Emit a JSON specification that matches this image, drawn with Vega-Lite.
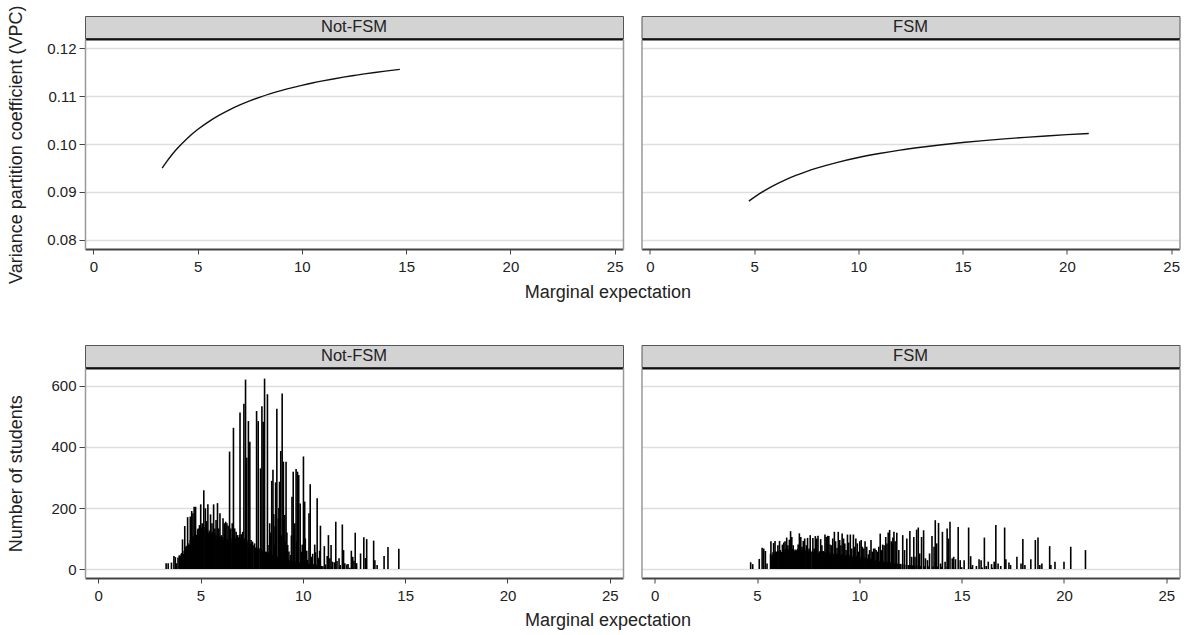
{
  "$schema": "https://vega.github.io/schema/vega-lite/v6.json",
  "background": "white",
  "padding": {"left": 7, "top": 5, "right": 6, "bottom": 1},
  "spacing": 42,
  "datasets": {
    "vpcN": [
      {"x": 3.3, "vpc": 0.09496}, {"x": 3.5, "vpc": 0.09622}, {"x": 3.75, "vpc": 0.09765}, {"x": 4.0, "vpc": 0.09894},
      {"x": 4.5, "vpc": 0.10116}, {"x": 5.0, "vpc": 0.10301}, {"x": 5.5, "vpc": 0.10457}, {"x": 6.0, "vpc": 0.10591},
      {"x": 6.5, "vpc": 0.10707}, {"x": 7.0, "vpc": 0.10809}, {"x": 7.5, "vpc": 0.10899}, {"x": 8.0, "vpc": 0.10978},
      {"x": 8.5, "vpc": 0.1105}, {"x": 9.0, "vpc": 0.11114}, {"x": 9.5, "vpc": 0.11172}, {"x": 10.0, "vpc": 0.11224},
      {"x": 10.5, "vpc": 0.11273}, {"x": 11.0, "vpc": 0.11317}, {"x": 11.5, "vpc": 0.11357}, {"x": 12.0, "vpc": 0.11395},
      {"x": 12.5, "vpc": 0.11429}, {"x": 13.0, "vpc": 0.11462}, {"x": 13.5, "vpc": 0.11492}, {"x": 14.0, "vpc": 0.1152},
      {"x": 14.7, "vpc": 0.11556}
    ],
    "vpcF": [
      {"x": 4.75, "vpc": 0.08808}, {"x": 5.0, "vpc": 0.08887}, {"x": 5.5, "vpc": 0.09028}, {"x": 6.0, "vpc": 0.09148},
      {"x": 6.5, "vpc": 0.09252}, {"x": 7.0, "vpc": 0.09344}, {"x": 7.5, "vpc": 0.09425}, {"x": 8.0, "vpc": 0.09496},
      {"x": 9.0, "vpc": 0.09618}, {"x": 10.0, "vpc": 0.09718}, {"x": 11.0, "vpc": 0.09801}, {"x": 12.0, "vpc": 0.09872},
      {"x": 13.0, "vpc": 0.09932}, {"x": 14.0, "vpc": 0.09985}, {"x": 15.0, "vpc": 0.10031}, {"x": 16.0, "vpc": 0.10071},
      {"x": 17.0, "vpc": 0.10107}, {"x": 18.0, "vpc": 0.10139}, {"x": 19.0, "vpc": 0.10168}, {"x": 20.0, "vpc": 0.10195},
      {"x": 21.05, "vpc": 0.10219}
    ],
    "histN": [
      {"x":3.32,"n":19},{"x":3.42,"n":19},{"x":3.58,"n":21},{"x":3.70,"n":43},{"x":3.77,"n":39},{"x":3.83,"n":19},{"x":3.99,"n":35},{"x":4.05,"n":48},{"x":4.12,"n":97},{"x":4.18,"n":48},
      {"x":4.23,"n":141},{"x":4.31,"n":76},{"x":4.37,"n":170},{"x":4.44,"n":79},{"x":4.50,"n":172},{"x":4.57,"n":190},{"x":4.63,"n":183},{"x":4.69,"n":204},{"x":4.76,"n":204},{"x":4.82,"n":100},
      {"x":4.89,"n":133},{"x":4.95,"n":144},{"x":5.01,"n":212},{"x":5.08,"n":150},{"x":5.16,"n":258},{"x":5.24,"n":199},{"x":5.30,"n":157},{"x":5.36,"n":212},{"x":5.43,"n":122},{"x":5.49,"n":179},
      {"x":5.56,"n":150},{"x":5.64,"n":212},{"x":5.70,"n":133},{"x":5.76,"n":161},{"x":5.83,"n":216},{"x":5.89,"n":133},{"x":5.95,"n":183},{"x":6.02,"n":111},{"x":6.10,"n":166},{"x":6.16,"n":150},
      {"x":6.23,"n":155},{"x":6.29,"n":150},{"x":6.35,"n":142},{"x":6.42,"n":385},{"x":6.48,"n":133},{"x":6.55,"n":150},{"x":6.61,"n":463},{"x":6.67,"n":133},{"x":6.74,"n":122},{"x":6.80,"n":111},
      {"x":6.86,"n":100},{"x":6.93,"n":513},{"x":6.99,"n":114},{"x":7.06,"n":122},{"x":7.12,"n":542},{"x":7.20,"n":621},{"x":7.23,"n":360},{"x":7.26,"n":365},{"x":7.34,"n":485},{"x":7.41,"n":417},
      {"x":7.47,"n":95},{"x":7.54,"n":90},{"x":7.64,"n":84},{"x":7.74,"n":518},{"x":7.82,"n":485},{"x":7.93,"n":330},{"x":8.00,"n":534},{"x":8.06,"n":483},{"x":8.10,"n":480},{"x":8.13,"n":624},
      {"x":8.19,"n":57},{"x":8.27,"n":573},{"x":8.35,"n":79},{"x":8.38,"n":150},{"x":8.41,"n":106},{"x":8.44,"n":120},{"x":8.48,"n":289},{"x":8.54,"n":325},{"x":8.58,"n":180},{"x":8.61,"n":79},
      {"x":8.64,"n":140},{"x":8.67,"n":284},{"x":8.70,"n":130},{"x":8.73,"n":525},{"x":8.80,"n":166},{"x":8.83,"n":200},{"x":8.86,"n":286},{"x":8.92,"n":387},{"x":8.95,"n":110},{"x":8.99,"n":575},
      {"x":9.05,"n":352},{"x":9.08,"n":100},{"x":9.12,"n":177},{"x":9.15,"n":90},{"x":9.18,"n":352},{"x":9.22,"n":120},{"x":9.26,"n":79},{"x":9.32,"n":57},{"x":9.40,"n":46},{"x":9.44,"n":110},
      {"x":9.47,"n":237},{"x":9.53,"n":319},{"x":9.57,"n":140},{"x":9.61,"n":150},{"x":9.67,"n":328},{"x":9.70,"n":90},{"x":9.74,"n":319},{"x":9.77,"n":120},{"x":9.80,"n":308},{"x":9.87,"n":215},
      {"x":9.93,"n":57},{"x":9.97,"n":80},{"x":10.03,"n":369},{"x":10.09,"n":221},{"x":10.12,"n":100},{"x":10.15,"n":51},{"x":10.19,"n":60},{"x":10.23,"n":30},{"x":10.30,"n":183},{"x":10.36,"n":278},
      {"x":10.42,"n":40},{"x":10.48,"n":50},{"x":10.52,"n":15},{"x":10.58,"n":80},{"x":10.62,"n":55},{"x":10.70,"n":232},{"x":10.76,"n":37},{"x":10.82,"n":60},{"x":10.86,"n":142},{"x":11.05,"n":75},
      {"x":11.11,"n":15},{"x":11.19,"n":43},{"x":11.25,"n":111},{"x":11.32,"n":35},{"x":11.38,"n":79},{"x":11.45,"n":24},{"x":11.54,"n":22},{"x":11.61,"n":155},{"x":11.67,"n":26},{"x":11.77,"n":35},
      {"x":11.83,"n":13},{"x":11.93,"n":146},{"x":11.99,"n":62},{"x":12.05,"n":19},{"x":12.15,"n":15},{"x":12.21,"n":16},{"x":12.37,"n":60},{"x":12.44,"n":40},{"x":12.50,"n":27},{"x":12.56,"n":119},
      {"x":12.63,"n":19},{"x":12.82,"n":51},{"x":12.98,"n":104},{"x":13.06,"n":36},{"x":13.12,"n":98},{"x":13.46,"n":93},{"x":13.52,"n":29},{"x":13.63,"n":13},{"x":13.97,"n":43},{"x":14.16,"n":72},
      {"x":14.69,"n":66},
      {"x":3.90,"n":38},{"x":3.96,"n":45},{"x":4.02,"n":42},{"x":4.08,"n":52},{"x":4.14,"n":48},{"x":4.20,"n":60},{"x":4.26,"n":72},{"x":4.32,"n":68},{"x":4.38,"n":85},{"x":4.44,"n":80},
      {"x":4.50,"n":95},{"x":4.56,"n":90},{"x":4.62,"n":108},{"x":4.68,"n":100},{"x":4.74,"n":118},{"x":4.80,"n":112},{"x":4.86,"n":130},{"x":4.92,"n":125},{"x":4.98,"n":140},{"x":5.04,"n":135},
      {"x":5.10,"n":145},{"x":5.16,"n":128},{"x":5.22,"n":138},{"x":5.28,"n":122},{"x":5.34,"n":130},{"x":5.40,"n":118},{"x":5.46,"n":126},{"x":5.52,"n":115},{"x":5.58,"n":122},{"x":5.64,"n":110},
      {"x":5.70,"n":118},{"x":5.76,"n":108},{"x":5.82,"n":112},{"x":5.88,"n":100},{"x":5.94,"n":108},{"x":6.00,"n":98},{"x":6.06,"n":105},{"x":6.12,"n":95},{"x":6.18,"n":102},{"x":6.24,"n":92},
      {"x":6.30,"n":98},{"x":6.36,"n":90},{"x":6.42,"n":96},{"x":6.48,"n":88},{"x":6.54,"n":100},{"x":6.60,"n":95},{"x":6.66,"n":108},{"x":6.72,"n":100},{"x":6.78,"n":110},{"x":6.84,"n":104},
      {"x":6.90,"n":112},{"x":6.96,"n":100},{"x":7.02,"n":108},{"x":7.08,"n":96},{"x":7.14,"n":100},{"x":7.20,"n":92},{"x":7.26,"n":95},{"x":7.32,"n":88},{"x":7.38,"n":90},{"x":7.44,"n":82},
      {"x":7.50,"n":84},{"x":7.56,"n":76},{"x":7.62,"n":78},{"x":7.68,"n":70},{"x":7.74,"n":72},{"x":7.80,"n":66},{"x":7.86,"n":68},{"x":7.92,"n":62},{"x":7.98,"n":64},{"x":8.04,"n":58},
      {"x":8.10,"n":60},{"x":8.16,"n":55},{"x":8.22,"n":56},{"x":8.28,"n":52},{"x":8.34,"n":54},{"x":8.40,"n":48},{"x":8.46,"n":50},{"x":8.52,"n":46},{"x":8.58,"n":47},{"x":8.64,"n":42},
      {"x":8.70,"n":44},{"x":8.76,"n":40},{"x":8.82,"n":41},{"x":8.88,"n":37},{"x":8.94,"n":38},{"x":9.00,"n":35},{"x":9.06,"n":36},{"x":9.12,"n":32},{"x":9.18,"n":33},{"x":9.24,"n":30},
      {"x":9.30,"n":31},{"x":9.36,"n":28},{"x":9.42,"n":29},{"x":9.48,"n":26},{"x":9.54,"n":27},{"x":9.60,"n":24},{"x":9.66,"n":25},{"x":9.72,"n":22},{"x":9.78,"n":23},{"x":9.84,"n":21},
      {"x":9.90,"n":22},{"x":9.96,"n":20},{"x":10.02,"n":20},{"x":10.08,"n":18},{"x":10.14,"n":19},{"x":10.20,"n":17},{"x":10.26,"n":18},{"x":10.32,"n":16},{"x":10.38,"n":16},{"x":10.44,"n":14},
      {"x":10.50,"n":15},{"x":10.56,"n":13},{"x":10.62,"n":14},{"x":10.68,"n":12},{"x":10.74,"n":12},{"x":10.80,"n":11},{"x":10.86,"n":10},{"x":10.92,"n":10},{"x":10.98,"n":9},{"x":11.10,"n":8},
      {"x":11.22,"n":7},{"x":11.40,"n":6},{"x":11.60,"n":6},{"x":11.80,"n":5},{"x":12.00,"n":5},{"x":12.30,"n":4}
    ],
    "histF": [
      {"x":4.69,"n":22},{"x":4.79,"n":16},{"x":5.11,"n":33},{"x":5.25,"n":70},{"x":5.33,"n":67},{"x":5.41,"n":59},{"x":5.49,"n":18},{"x":5.68,"n":91},{"x":5.75,"n":46},{"x":5.81,"n":85},
      {"x":5.88,"n":92},{"x":5.94,"n":57},{"x":6.02,"n":78},{"x":6.10,"n":92},{"x":6.16,"n":40},{"x":6.24,"n":80},{"x":6.31,"n":87},{"x":6.37,"n":91},{"x":6.45,"n":103},{"x":6.51,"n":78},
      {"x":6.58,"n":96},{"x":6.64,"n":124},{"x":6.70,"n":105},{"x":6.77,"n":78},{"x":6.85,"n":57},{"x":6.91,"n":62},{"x":7.01,"n":80},{"x":7.07,"n":117},{"x":7.14,"n":105},{"x":7.20,"n":73},
      {"x":7.26,"n":92},{"x":7.33,"n":100},{"x":7.41,"n":78},{"x":7.47,"n":102},{"x":7.54,"n":67},{"x":7.60,"n":111},{"x":7.73,"n":102},{"x":7.79,"n":67},{"x":7.85,"n":108},{"x":7.92,"n":100},
      {"x":7.98,"n":109},{"x":8.05,"n":51},{"x":8.11,"n":98},{"x":8.17,"n":78},{"x":8.24,"n":59},{"x":8.32,"n":113},{"x":8.38,"n":105},{"x":8.45,"n":109},{"x":8.51,"n":108},{"x":8.57,"n":80},
      {"x":8.64,"n":78},{"x":8.70,"n":100},{"x":8.78,"n":122},{"x":8.84,"n":91},{"x":8.91,"n":70},{"x":8.97,"n":122},{"x":9.04,"n":95},{"x":9.10,"n":78},{"x":9.16,"n":116},{"x":9.23,"n":100},
      {"x":9.29,"n":84},{"x":9.35,"n":62},{"x":9.42,"n":113},{"x":9.48,"n":87},{"x":9.56,"n":113},{"x":9.63,"n":67},{"x":9.71,"n":113},{"x":9.77,"n":73},{"x":9.83,"n":100},{"x":9.90,"n":84},
      {"x":9.96,"n":57},{"x":10.02,"n":91},{"x":10.09,"n":95},{"x":10.15,"n":73},{"x":10.22,"n":67},{"x":10.28,"n":91},{"x":10.36,"n":73},{"x":10.44,"n":48},{"x":10.50,"n":62},{"x":10.57,"n":95},
      {"x":10.63,"n":57},{"x":10.70,"n":67},{"x":10.76,"n":67},{"x":10.82,"n":62},{"x":10.89,"n":57},{"x":10.95,"n":73},{"x":11.02,"n":116},{"x":11.08,"n":62},{"x":11.14,"n":80},{"x":11.21,"n":78},
      {"x":11.29,"n":105},{"x":11.35,"n":84},{"x":11.41,"n":120},{"x":11.48,"n":128},{"x":11.56,"n":91},{"x":11.62,"n":84},{"x":11.64,"n":103},{"x":11.69,"n":122},{"x":11.75,"n":91},{"x":11.83,"n":119},
      {"x":11.93,"n":62},{"x":12.12,"n":111},{"x":12.21,"n":62},{"x":12.32,"n":100},{"x":12.47,"n":125},{"x":12.56,"n":40},{"x":12.66,"n":105},{"x":12.72,"n":40},{"x":12.80,"n":129},{"x":12.88,"n":136},
      {"x":12.95,"n":51},{"x":13.04,"n":105},{"x":13.14,"n":127},{"x":13.23,"n":35},{"x":13.33,"n":29},{"x":13.43,"n":51},{"x":13.55,"n":108},{"x":13.65,"n":73},{"x":13.71,"n":160},{"x":13.78,"n":84},
      {"x":13.87,"n":151},{"x":13.97,"n":18},{"x":14.06,"n":122},{"x":14.19,"n":24},{"x":14.29,"n":133},{"x":14.35,"n":100},{"x":14.43,"n":155},{"x":14.54,"n":35},{"x":14.61,"n":40},{"x":14.70,"n":32},
      {"x":14.83,"n":138},{"x":14.93,"n":29},{"x":15.12,"n":29},{"x":15.34,"n":136},{"x":15.44,"n":42},{"x":15.53,"n":13},{"x":15.72,"n":10},{"x":15.85,"n":32},{"x":15.95,"n":29},{"x":16.11,"n":103},
      {"x":16.20,"n":10},{"x":16.30,"n":24},{"x":16.46,"n":16},{"x":16.59,"n":24},{"x":16.67,"n":144},{"x":16.78,"n":18},{"x":16.91,"n":10},{"x":17.10,"n":136},{"x":17.16,"n":32},{"x":17.31,"n":21},
      {"x":17.39,"n":13},{"x":17.70,"n":40},{"x":17.90,"n":18},{"x":17.99,"n":98},{"x":18.09,"n":13},{"x":18.38,"n":32},{"x":18.60,"n":95},{"x":18.73,"n":103},{"x":18.82,"n":13},{"x":18.92,"n":18},
      {"x":19.30,"n":75},{"x":19.36,"n":13},{"x":19.56,"n":24},{"x":20.00,"n":24},{"x":20.33,"n":73},{"x":21.05,"n":62},
      {"x":5.66,"n":50},{"x":5.72,"n":45},{"x":5.78,"n":55},{"x":5.84,"n":50},{"x":5.90,"n":58},{"x":5.96,"n":52},{"x":6.02,"n":60},{"x":6.08,"n":55},{"x":6.14,"n":62},{"x":6.20,"n":56},
      {"x":6.26,"n":63},{"x":6.32,"n":58},{"x":6.38,"n":65},{"x":6.44,"n":60},{"x":6.50,"n":66},{"x":6.56,"n":60},{"x":6.62,"n":65},{"x":6.68,"n":58},{"x":6.74,"n":66},{"x":6.80,"n":60},
      {"x":6.86,"n":64},{"x":6.92,"n":58},{"x":6.98,"n":66},{"x":7.04,"n":60},{"x":7.10,"n":65},{"x":7.16,"n":60},{"x":7.22,"n":64},{"x":7.28,"n":58},{"x":7.34,"n":63},{"x":7.40,"n":58},
      {"x":7.46,"n":62},{"x":7.52,"n":57},{"x":7.58,"n":62},{"x":7.64,"n":56},{"x":7.70,"n":60},{"x":7.76,"n":55},{"x":7.82,"n":60},{"x":7.88,"n":55},{"x":7.94,"n":58},{"x":8.00,"n":53},
      {"x":8.06,"n":58},{"x":8.12,"n":52},{"x":8.18,"n":57},{"x":8.24,"n":52},{"x":8.30,"n":56},{"x":8.36,"n":50},{"x":8.42,"n":55},{"x":8.48,"n":50},{"x":8.54,"n":54},{"x":8.60,"n":49},
      {"x":8.66,"n":53},{"x":8.72,"n":48},{"x":8.78,"n":52},{"x":8.84,"n":47},{"x":8.90,"n":51},{"x":8.96,"n":46},{"x":9.02,"n":50},{"x":9.08,"n":45},{"x":9.14,"n":49},{"x":9.20,"n":44},
      {"x":9.26,"n":48},{"x":9.32,"n":43},{"x":9.38,"n":47},{"x":9.44,"n":42},{"x":9.50,"n":46},{"x":9.56,"n":41},{"x":9.62,"n":45},{"x":9.68,"n":40},{"x":9.74,"n":44},{"x":9.80,"n":39},
      {"x":9.86,"n":43},{"x":9.92,"n":38},{"x":9.98,"n":42},{"x":10.04,"n":37},{"x":10.10,"n":40},{"x":10.16,"n":36},{"x":10.22,"n":39},{"x":10.28,"n":35},{"x":10.34,"n":38},{"x":10.40,"n":34},
      {"x":10.46,"n":36},{"x":10.52,"n":32},{"x":10.58,"n":34},{"x":10.64,"n":30},{"x":10.70,"n":32},{"x":10.76,"n":28},{"x":10.82,"n":30},{"x":10.88,"n":27},{"x":10.94,"n":28},{"x":11.00,"n":25},
      {"x":11.06,"n":27},{"x":11.12,"n":24},{"x":11.18,"n":25},{"x":11.24,"n":22},{"x":11.30,"n":24},{"x":11.36,"n":21},{"x":11.42,"n":22},{"x":11.48,"n":20},{"x":11.54,"n":21},{"x":11.60,"n":19},
      {"x":11.66,"n":20},{"x":11.72,"n":18},{"x":11.78,"n":19},{"x":11.84,"n":17},{"x":11.90,"n":18},{"x":11.96,"n":16},{"x":12.02,"n":17},{"x":12.10,"n":15},{"x":12.20,"n":15},{"x":12.30,"n":14},
      {"x":12.40,"n":13},{"x":12.50,"n":13},{"x":12.60,"n":12},{"x":12.70,"n":11},{"x":12.80,"n":11},{"x":12.90,"n":10},{"x":13.00,"n":10},{"x":13.20,"n":9},{"x":13.40,"n":9},{"x":13.60,"n":8},
      {"x":13.80,"n":8},{"x":14.00,"n":7},{"x":14.30,"n":7},{"x":14.60,"n":6},{"x":15.00,"n":6},{"x":15.50,"n":5},{"x":16.00,"n":5},{"x":16.50,"n":4}
    ]
  },
  "vconcat": [
    {
      "title": {"text": "Marginal expectation", "orient": "bottom", "anchor": "middle", "fontSize": 18, "fontWeight": "normal", "font": "Liberation Sans", "color": "#222", "offset": 0, "dx": 14},
      "spacing": 16.5,
      "hconcat": [
        {
          "title": {"text": "Variance partition coefficient (VPC)", "orient": "left", "anchor": "middle", "fontSize": 18, "fontWeight": "normal", "font": "Liberation Sans", "color": "#222", "offset": 21},
          "spacing": -1,
          "vconcat": [
            {
              "width": 538, "height": 22,
              "data": {"values": [{"label": "Not-FSM"}]},
              "mark": {"type": "text", "fontSize": 16.5, "color": "#222", "font": "Liberation Sans"},
              "encoding": {"text": {"field": "label", "type": "nominal"}},
              "view": {"fill": "#d3d3d3", "stroke": "#555", "strokeWidth": 1}
            },
            {
              "width": 538, "height": 210,
              "data": {"name": "vpcN"},
              "layer": [
                {
                  "mark": {"type": "line", "color": "#111", "strokeWidth": 1.4, "interpolate": "monotone"},
                  "encoding": {
                    "x": {"field": "x", "type": "quantitative", "scale": {"domain": [-0.4, 25.4], "nice": false, "zero": false},
                      "axis": {"values": [0, 5, 10, 15, 20, 25], "grid": false, "domainWidth": 2, "tickSize": 5, "labelPadding": 5, "title": null}},
                    "y": {"field": "vpc", "type": "quantitative", "scale": {"domain": [0.0781, 0.1219], "nice": false, "zero": false},
                      "axis": {"values": [0.08, 0.09, 0.1, 0.11, 0.12], "format": ".2f", "grid": true, "domainColor": "#999", "domainWidth": 1.5, "tickSize": 6, "labelPadding": 3, "title": null}}
                  }
                },
                {
                  "mark": {"type": "point", "opacity": 0},
                  "encoding": {
                    "x": {"field": "x", "type": "quantitative", "scale": {"domain": [-0.4, 25.4], "nice": false, "zero": false},
                      "axis": {"orient": "top", "labels": false, "ticks": false, "grid": false, "domainColor": "#111", "domainWidth": 2, "title": null}},
                    "y": {"field": "vpc", "type": "quantitative", "scale": {"domain": [0.0781, 0.1219], "nice": false, "zero": false},
                      "axis": {"orient": "right", "labels": false, "ticks": false, "grid": false, "domainColor": "#999", "domainWidth": 1.5, "title": null}}
                  }
                }
              ],
              "resolve": {"axis": {"x": "independent", "y": "independent"}}
            }
          ]
        },
        {
          "spacing": -1,
          "vconcat": [
            {
              "width": 538, "height": 22,
              "data": {"values": [{"label": "FSM"}]},
              "mark": {"type": "text", "fontSize": 16.5, "color": "#222", "font": "Liberation Sans"},
              "encoding": {"text": {"field": "label", "type": "nominal"}},
              "view": {"fill": "#d3d3d3", "stroke": "#555", "strokeWidth": 1}
            },
            {
              "width": 538, "height": 210,
              "data": {"name": "vpcF"},
              "layer": [
                {
                  "mark": {"type": "line", "color": "#111", "strokeWidth": 1.4, "interpolate": "monotone"},
                  "encoding": {
                    "x": {"field": "x", "type": "quantitative", "scale": {"domain": [-0.4, 25.4], "nice": false, "zero": false},
                      "axis": {"values": [0, 5, 10, 15, 20, 25], "grid": false, "domainWidth": 2, "tickSize": 5, "labelPadding": 5, "title": null}},
                    "y": {"field": "vpc", "type": "quantitative", "scale": {"domain": [0.0781, 0.1219], "nice": false, "zero": false},
                      "axis": {"values": [0.08, 0.09, 0.1, 0.11, 0.12], "grid": true, "labels": false, "ticks": false, "domainColor": "#999", "domainWidth": 1.5, "title": null}}
                  }
                },
                {
                  "mark": {"type": "point", "opacity": 0},
                  "encoding": {
                    "x": {"field": "x", "type": "quantitative", "scale": {"domain": [-0.4, 25.4], "nice": false, "zero": false},
                      "axis": {"orient": "top", "labels": false, "ticks": false, "grid": false, "domainColor": "#111", "domainWidth": 2, "title": null}},
                    "y": {"field": "vpc", "type": "quantitative", "scale": {"domain": [0.0781, 0.1219], "nice": false, "zero": false},
                      "axis": {"orient": "right", "labels": false, "ticks": false, "grid": false, "domainColor": "#999", "domainWidth": 1.5, "title": null}}
                  }
                }
              ],
              "resolve": {"axis": {"x": "independent", "y": "independent"}}
            }
          ]
        }
      ]
    },
    {
      "title": {"text": "Marginal expectation", "orient": "bottom", "anchor": "middle", "fontSize": 18, "fontWeight": "normal", "font": "Liberation Sans", "color": "#222", "offset": 9, "dx": 14},
      "spacing": 16.5,
      "hconcat": [
        {
          "title": {"text": "Number of students", "orient": "left", "anchor": "middle", "fontSize": 18, "fontWeight": "normal", "font": "Liberation Sans", "color": "#222", "offset": 25},
          "spacing": -1,
          "vconcat": [
            {
              "width": 538, "height": 22,
              "data": {"values": [{"label": "Not-FSM"}]},
              "mark": {"type": "text", "fontSize": 16.5, "color": "#222", "font": "Liberation Sans"},
              "encoding": {"text": {"field": "label", "type": "nominal"}},
              "view": {"fill": "#d3d3d3", "stroke": "#555", "strokeWidth": 1}
            },
            {
              "width": 538, "height": 210,
              "data": {"name": "histN"},
              "layer": [
                {
                  "mark": {"type": "bar", "color": "#000", "width": 1.6, "orient": "vertical"},
                  "encoding": {
                    "x": {"field": "x", "type": "quantitative", "scale": {"domain": [-0.4, 25.4], "nice": false, "zero": false},
                      "axis": {"values": [0, 5, 10, 15, 20, 25], "grid": false, "domainWidth": 2, "tickSize": 5, "labelPadding": 5, "title": null}},
                    "y": {"field": "n", "type": "quantitative", "scale": {"domain": [-29.5, 659], "nice": false, "zero": false},
                      "axis": {"values": [0, 200, 400, 600], "format": "d", "grid": true, "domainColor": "#999", "domainWidth": 1.5, "tickSize": 6, "labelPadding": 3, "title": null}},
                    "y2": {"datum": 0}
                  }
                },
                {
                  "mark": {"type": "point", "opacity": 0},
                  "encoding": {
                    "x": {"field": "x", "type": "quantitative", "scale": {"domain": [-0.4, 25.4], "nice": false, "zero": false},
                      "axis": {"orient": "top", "labels": false, "ticks": false, "grid": false, "domainColor": "#111", "domainWidth": 2, "title": null}},
                    "y": {"field": "n", "type": "quantitative", "scale": {"domain": [-29.5, 659], "nice": false, "zero": false},
                      "axis": {"orient": "right", "labels": false, "ticks": false, "grid": false, "domainColor": "#999", "domainWidth": 1.5, "title": null}}
                  }
                }
              ],
              "resolve": {"axis": {"x": "independent", "y": "independent"}}
            }
          ]
        },
        {
          "spacing": -1,
          "vconcat": [
            {
              "width": 538, "height": 22,
              "data": {"values": [{"label": "FSM"}]},
              "mark": {"type": "text", "fontSize": 16.5, "color": "#222", "font": "Liberation Sans"},
              "encoding": {"text": {"field": "label", "type": "nominal"}},
              "view": {"fill": "#d3d3d3", "stroke": "#555", "strokeWidth": 1}
            },
            {
              "width": 538, "height": 210,
              "data": {"name": "histF"},
              "layer": [
                {
                  "mark": {"type": "bar", "color": "#000", "width": 1.6, "orient": "vertical"},
                  "encoding": {
                    "x": {"field": "x", "type": "quantitative", "scale": {"domain": [-0.4, 25.4], "nice": false, "zero": false},
                      "axis": {"values": [0, 5, 10, 15, 20, 25], "grid": false, "domainWidth": 2, "tickSize": 5, "labelPadding": 5, "title": null}},
                    "y": {"field": "n", "type": "quantitative", "scale": {"domain": [-29.5, 659], "nice": false, "zero": false},
                      "axis": {"values": [0, 200, 400, 600], "grid": true, "labels": false, "ticks": false, "domainColor": "#999", "domainWidth": 1.5, "title": null}},
                    "y2": {"datum": 0}
                  }
                },
                {
                  "mark": {"type": "point", "opacity": 0},
                  "encoding": {
                    "x": {"field": "x", "type": "quantitative", "scale": {"domain": [-0.4, 25.4], "nice": false, "zero": false},
                      "axis": {"orient": "top", "labels": false, "ticks": false, "grid": false, "domainColor": "#111", "domainWidth": 2, "title": null}},
                    "y": {"field": "n", "type": "quantitative", "scale": {"domain": [-29.5, 659], "nice": false, "zero": false},
                      "axis": {"orient": "right", "labels": false, "ticks": false, "grid": false, "domainColor": "#999", "domainWidth": 1.5, "title": null}}
                  }
                }
              ],
              "resolve": {"axis": {"x": "independent", "y": "independent"}}
            }
          ]
        }
      ]
    }
  ],
  "config": {
    "font": "Liberation Sans",
    "view": {"stroke": null},
    "axis": {
      "labelFont": "Liberation Sans", "titleFont": "Liberation Sans",
      "labelColor": "#222", "titleColor": "#222", "titleFontWeight": "normal",
      "labelFontSize": 15, "titleFontSize": 18,
      "gridColor": "#dedede", "gridWidth": 1.5,
      "tickColor": "#444", "domainColor": "#444"
    }
  }
}
